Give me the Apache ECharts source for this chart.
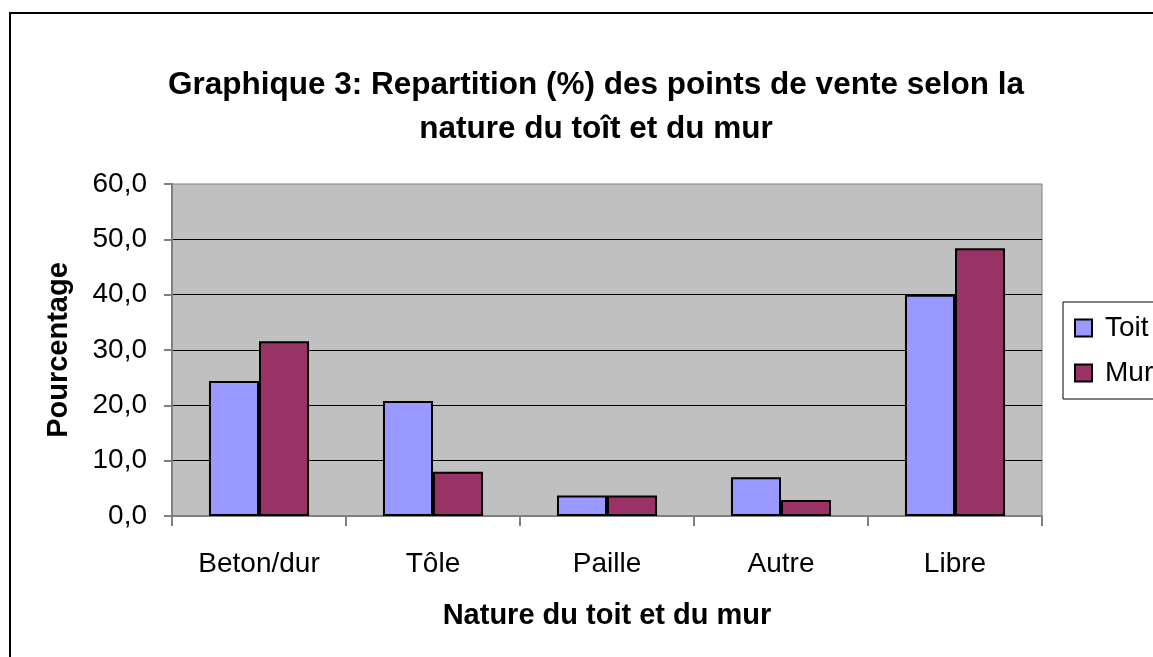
<!DOCTYPE html>
<html>
<head>
<meta charset="utf-8">
<script src="https://cdn.jsdelivr.net/npm/echarts@6/dist/echarts.min.js"></script>
<style>
  html, body { margin: 0; padding: 0; background: #fff; }
  #chart { width: 1153px; height: 657px; }
</style>
</head>
<body>
<div id="chart"></div>
<script>
// données
const categories = ['Beton/dur', 'Tôle', 'Paille', 'Autre', 'Libre']
const toit = [24.4, 20.8, 3.7, 7.0, 40.0]
const mur = [31.6, 8.0, 3.7, 2.9, 48.4]
const seriesNames = ['Toit', 'Mur']
const yTicks = { min: 0, max: 60, interval: 10 }

const font = "'Liberation Sans', Arial, sans-serif"
const chart = echarts.init(document.getElementById('chart'))

const option = {
    backgroundColor: '#fff',
    animation: false,
    title: {
        text: 'Graphique 3: Repartition (%) des points de vente selon la\nnature du toît et du mur',
        left: 591,
        top: 58,
        textAlign: 'center',
        textStyle: {
            fontFamily: font,
            fontSize: 31.5,
            fontWeight: 'bold',
            color: '#000',
            lineHeight: 44
        }
    },
    // cadre extérieur
    graphic: [{
        type: 'rect',
        z: -1,
        shape: { x: 10, y: 13, width: 1200, height: 700 },
        style: { fill: 'none', stroke: '#000', lineWidth: 2 }
    }],
    legend: {
        data: seriesNames,
        orient: 'vertical',
        left: 1063,
        top: 302,
        padding: [12, 40, 12, 11],
        itemGap: 17,
        itemWidth: 17,
        itemHeight: 17,
        icon: 'rect',
        borderColor: '#000',
        borderWidth: 1,
        backgroundColor: '#fff',
        textStyle: {
            fontFamily: font,
            fontSize: 28,
            color: '#000',
            padding: [0, 0, 0, 8]
        }
    },
    grid: {
        left: 172,
        right: 111,
        top: 184,
        bottom: 141,
        show: true,
        backgroundColor: '#C0C0C0',
        borderColor: '#808080',
        borderWidth: 1
    },
    xAxis: {
        type: 'category',
        data: categories,
        name: 'Nature du toit et du mur',
        nameLocation: 'middle',
        nameGap: 85,
        nameTextStyle: {
            fontFamily: font,
            fontSize: 29,
            fontWeight: 'bold',
            color: '#000'
        },
        axisLine: { lineStyle: { color: '#808080', width: 2 } },
        axisTick: { show: true, length: 10, lineStyle: { color: '#808080', width: 2 } },
        axisLabel: {
            fontFamily: font,
            fontSize: 28,
            color: '#000',
            margin: 34
        }
    },
    yAxis: {
        type: 'value',
        min: yTicks.min,
        max: yTicks.max,
        interval: yTicks.interval,
        name: 'Pourcentage',
        nameLocation: 'middle',
        nameGap: 99,
        nameTextStyle: {
            fontFamily: font,
            fontSize: 29,
            fontWeight: 'bold',
            color: '#000'
        },
        axisLine: { show: true, lineStyle: { color: '#808080', width: 2 } },
        axisTick: { show: true, length: 8, lineStyle: { color: '#808080', width: 2 } },
        axisLabel: {
            fontFamily: font,
            fontSize: 28,
            color: '#000',
            margin: 25,
            formatter: (v) => v.toFixed(1).replace('.', ',')
        },
        splitLine: {
            show: true,
            showMinLine: false,
            showMaxLine: false,
            lineStyle: { color: '#000', width: 1 }
        }
    },
    series: [
        {
            name: seriesNames[0],
            type: 'bar',
            data: toit,
            barGap: '0%',
            barCategoryGap: '42.5%',
            itemStyle: { color: '#9999FF', borderColor: '#000', borderWidth: 2 }
        },
        {
            name: seriesNames[1],
            type: 'bar',
            data: mur,
            barGap: '0%',
            barCategoryGap: '42.5%',
            itemStyle: { color: '#993366', borderColor: '#000', borderWidth: 2 }
        }
    ]
}

chart.setOption(option)
</script>
</body>
</html>
